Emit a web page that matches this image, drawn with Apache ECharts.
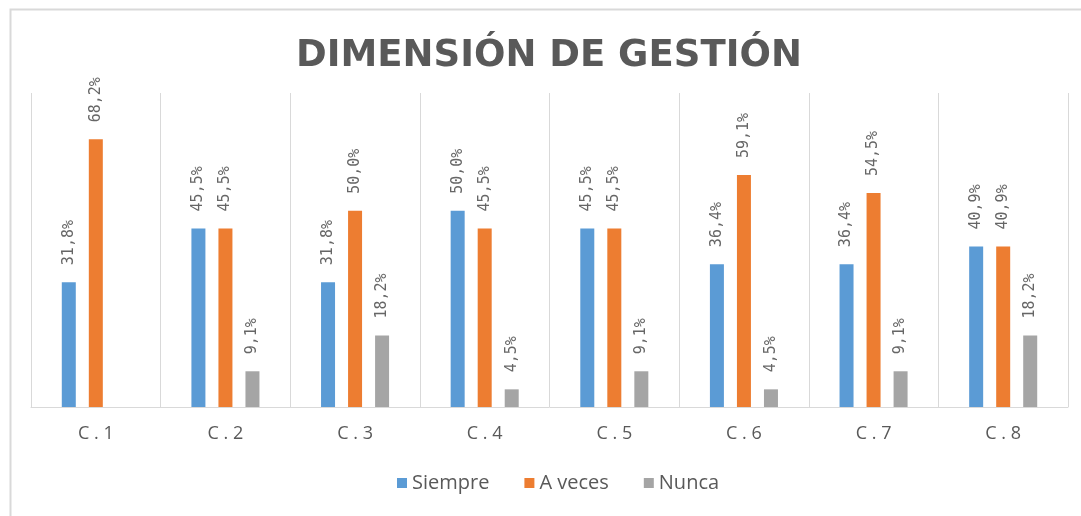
<!DOCTYPE html>
<html>
<head>
    <meta charset="utf-8"/>
    <title>Dimensión de gestión</title>
    <script type="text/javascript" src="https://cdn.jsdelivr.net/npm/echarts@6/dist/echarts.min.js"></script>
    <style>
        html, body { margin: 0; padding: 0; background: #fff; }
        #main { width: 1081px; height: 516px; }
    </style>
</head>
<body>
<div id="main"></div>
<script type="text/javascript">
    // datos del grafico
    var categorias = ['C . 1', 'C . 2', 'C . 3', 'C . 4', 'C . 5', 'C . 6', 'C . 7', 'C . 8'];
    var siempre = [31.8, 45.5, 31.8, 50.0, 45.5, 36.4, 36.4, 40.9];
    var aVeces = [68.2, 45.5, 50.0, 45.5, 45.5, 59.1, 54.5, 40.9];
    var nunca = [null, 9.1, 18.2, 4.5, 9.1, 4.5, 9.1, 18.2];

    var gris = '#595959';
    var fuente = '"Open Sans", "Liberation Sans", sans-serif';

    function etiqueta(p) {
        return p.value.toFixed(1).replace('.', ',') + '%';
    }

    function serie(nombre, datos, color) {
        return {
            name: nombre,
            type: 'bar',
            barWidth: 14,
            barGap: '93%',
            itemStyle: { color: color },
            label: {
                show: true,
                position: 'top',
                rotate: 90,
                align: 'left',
                verticalAlign: 'middle',
                distance: 17,
                color: '#666',
                fontSize: 15,
                fontFamily: '"DejaVu Sans Mono", monospace',
                formatter: etiqueta
            },
            data: datos
        };
    }

    var myChart = echarts.init(document.getElementById('main'));
    var option = {
        animation: false,
        backgroundColor: '#fff',
        title: {
            text: 'DIMENSIÓN DE GESTIÓN',
            left: 291,
            top: 33,
            textStyle: {
                color: gris,
                fontSize: 37,
                fontWeight: 'bold',
                fontFamily: '"DejaVu Sans", sans-serif'
            }
        },
        graphic: [{
            type: 'rect',
            left: 8,
            top: 7,
            shape: { width: 1100, height: 540 },
            style: { fill: 'none', stroke: '#D9D9D9', lineWidth: 2 },
            silent: true,
            z: -1
        }],
        legend: {
            top: 468,
            left: 392,
            icon: 'rect',
            itemWidth: 10,
            itemHeight: 10,
            itemGap: 35,
            textStyle: { color: gris, fontSize: 20, fontFamily: fuente },
            data: ['Siempre', 'A veces', 'Nunca']
        },
        grid: { left: 31, right: 13, top: 93, bottom: 109 },
        xAxis: {
            type: 'category',
            data: categorias,
            boundaryGap: true,
            axisTick: { show: false },
            axisLine: { lineStyle: { color: '#D9D9D9', width: 1 } },
            axisLabel: { color: gris, fontSize: 18, margin: 18, fontFamily: fuente },
            splitLine: { show: true, lineStyle: { color: '#D9D9D9', width: 1 } }
        },
        yAxis: {
            type: 'value',
            min: 0,
            max: 80,
            show: false,
            splitLine: { show: false }
        },
        series: [
            serie('Siempre', siempre, '#5B9BD5'),
            serie('A veces', aVeces, '#ED7D31'),
            serie('Nunca', nunca, '#A5A5A5')
        ]
    };
    myChart.setOption(option);
</script>
</body>
</html>
